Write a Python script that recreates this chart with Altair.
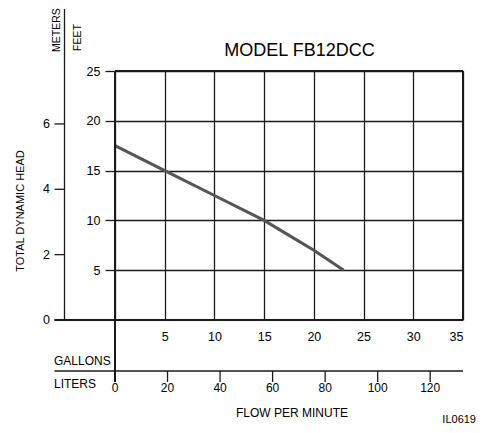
import altair as alt
import pandas as pd

# ---- data ----
flow_gpm = [0, 5, 10, 15, 17, 20, 23]
head_ft = [17.5, 15, 12.5, 10, 8.8, 7, 5]

gallon_ticks = [0, 5, 10, 15, 20, 25, 30, 35]
feet_ticks = [5, 10, 15, 20, 25]
meter_ticks = [0, 2, 4, 6]
liter_ticks = [0, 20, 40, 60, 80, 100, 120]

FONT = "Liberation Sans, Arial, sans-serif"
W, H = 348, 249
INK = "#1a1a1a"

curve = pd.DataFrame({"gallons": flow_gpm, "feet": head_ft})
meters = pd.DataFrame({"m": meter_ticks})
liters = pd.DataFrame({"l": liter_ticks})
one = alt.Data(values=[{}])

xscale = alt.Scale(domain=[0, 35], nice=False, zero=False)
yscale = alt.Scale(domain=[0, 25], nice=False)

line = alt.Chart(curve).mark_line(color="#555555", strokeWidth=3, clip=False).encode(
    x=alt.X("gallons:Q", scale=xscale,
            axis=alt.Axis(values=gallon_ticks, title=None, grid=True, gridColor=INK,
                          gridWidth=1.3, ticks=False, tickSize=0, domain=False,
                          labelPadding=10,
                          labelExpr="datum.value == 0 ? '' : datum.label")),
    y=alt.Y("feet:Q", scale=yscale,
            axis=alt.Axis(values=feet_ticks, title=None, grid=True, gridColor=INK,
                          gridWidth=1.3, ticks=True, tickSize=10, tickColor=INK,
                          tickWidth=1.3, domain=False, labelPadding=5)),
)


def rule(x=None, x2=None, y=None, y2=None, w=1.3):
    enc = {}
    if x is not None:
        enc["x"] = alt.value(x)
    if x2 is not None:
        enc["x2"] = alt.value(x2)
    if y is not None:
        enc["y"] = alt.value(y)
    if y2 is not None:
        enc["y2"] = alt.value(y2)
    return alt.Chart(one).mark_rule(color=INK, strokeWidth=w, clip=False).encode(**enc)


def label(txt, x, y, size=12, align="left", baseline="alphabetic", angle=0):
    return alt.Chart(one).mark_text(text=txt, font=FONT, fontSize=size, align=align,
                                    baseline=baseline, angle=angle, color="black",
                                    clip=False).encode(x=alt.value(x), y=alt.value(y))


frame = [
    rule(x=0, x2=W, y=0, w=2),          # top border
    rule(x=W, y=0, y2=H, w=2),          # right border
    rule(x=-60.5, x2=W, y=H, w=2),      # zero head line
    rule(x=0, y=0, y2=311, w=2),        # zero flow line
    rule(x=-50.5, y=H, y2=-62, w=1.3),  # meters axis line
    rule(x=-60.5, x2=W, y=300, w=1.3),  # liters axis line
]

meter_marks = alt.Chart(meters).transform_calculate(feet="datum.m * 3.28084")
meter_ticks_l = meter_marks.mark_rule(color=INK, strokeWidth=1.3, clip=False).encode(
    y=alt.Y("feet:Q", scale=yscale, title=None), x=alt.value(-60.5), x2=alt.value(-50.5))
meter_labels = meter_marks.mark_text(font=FONT, fontSize=12.5, align="right",
                                     baseline="middle", clip=False).encode(
    y=alt.Y("feet:Q", scale=yscale, title=None), x=alt.value(-65), text="m:Q")

liter_marks = alt.Chart(liters).transform_calculate(gallons="datum.l / 3.78541")
liter_ticks_l = liter_marks.mark_rule(color=INK, strokeWidth=1.3, clip=False).encode(
    x=alt.X("gallons:Q", scale=xscale, title=None), y=alt.value(300), y2=alt.value(311))
liter_labels = liter_marks.mark_text(font=FONT, fontSize=12, align="center",
                                     baseline="top", clip=False).encode(
    x=alt.X("gallons:Q", scale=xscale, title=None), y=alt.value(311.5), text="l:Q")

texts = [
    label("MODEL FB12DCC", 184.5, -15.5, size=18, align="center"),
    label("GALLONS", -61, 294),
    label("LITERS", -61, 316.5),
    label("FLOW PER MINUTE", 177, 345.5, align="center"),
    label("IL0619", 361, 352, size=11, align="right"),
    label("TOTAL DYNAMIC HEAD", -94.5, 140, size=11, align="center",
          baseline="middle", angle=270),
    label("METERS", -58.5, -19, size=10.5, baseline="middle", angle=270),
    label("FEET", -37, -20, size=10.5, baseline="middle", angle=270),
]

chart = alt.layer(
    line, *frame, meter_ticks_l, meter_labels, liter_ticks_l, liter_labels, *texts
).properties(
    width=W, height=H,
    autosize=alt.AutoSizeParams(type="none"),
    padding={"left": 107, "top": 63, "right": 15, "bottom": 105},
).configure_view(stroke=None).configure_axis(
    labelFont=FONT, labelFontSize=12.5, labelColor="black"
)

chart.save("out.html", embed_options={"renderer": "svg", "actions": False})
